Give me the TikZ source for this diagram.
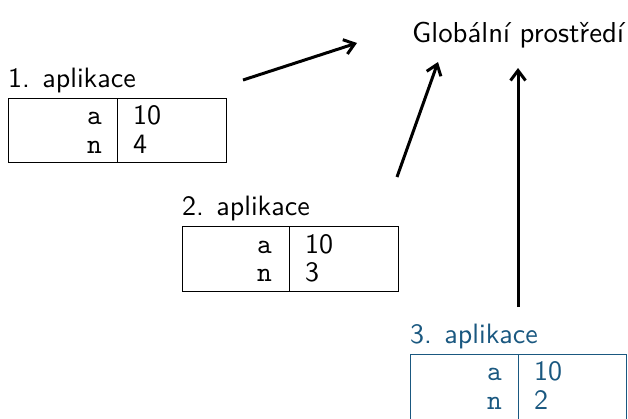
\documentclass[tikz,border=0pt]{standalone}
\usetikzlibrary{arrows.meta}
\definecolor{appblue}{RGB}{26,88,128}
% text is set at 10pt and enlarged, which keeps the 10pt design of the fonts
\newcommand{\bigsf}[2][2.8]{\scalebox{#1}{\fontsize{10}{12}\selectfont\sffamily #2}}
\newcommand{\bigtt}[1]{\scalebox{2.8}{\fontsize{10}{12}\selectfont\ttfamily #1}}
\begin{document}
\begin{tikzpicture}[x=1pt,y=-1pt,
  txt/.style={inner sep=0pt},
  frame/.style={draw, line width=0.8pt, inner sep=0pt, anchor=north west},
  divider/.style={line width=0.8pt},
  link/.style={line width=3pt, -{Straight Barb[length=10pt,width=15pt]}}]
\useasboundingbox (0,0) rectangle (628,418);
\clip (0,0) rectangle (628,418);

% global environment
\node[txt, anchor=base west] (glob) at (412,42) {\bigsf[2.88]{Globální prostředí}};

% first application frame
\node[txt, anchor=base west] (lab1) at (8,87) {\bigsf{1. aplikace}};
\node[frame, minimum width=218pt, minimum height=64pt] (box1) at (8,98) {};
\draw[divider] ([xshift=109pt]box1.north west) -- ([xshift=109pt]box1.south west);
\node[txt, anchor=base east] (a1) at (102,124) {\bigtt{a}};
\node[txt, anchor=base west] (va1) at (133,124) {\bigsf{10}};
\node[txt, anchor=base east] (n1) at (102,153) {\bigtt{n}};
\node[txt, anchor=base west] (vn1) at (133,153) {\bigsf{4}};

% second application frame
\node[txt, anchor=base west] (lab2) at (182,215) {\bigsf{2. aplikace}};
\node[frame, minimum width=216pt, minimum height=65pt] (box2) at (182,226) {};
\draw[divider] ([xshift=107pt]box2.north west) -- ([xshift=107pt]box2.south west);
\node[txt, anchor=base east] (a2) at (272,253) {\bigtt{a}};
\node[txt, anchor=base west] (va2) at (305,253) {\bigsf{10}};
\node[txt, anchor=base east] (n2) at (272,281) {\bigtt{n}};
\node[txt, anchor=base west] (vn2) at (305,281) {\bigsf{3}};

% third (current) application frame
\begin{scope}[appblue]
\node[txt, anchor=base west, text=appblue] (lab3) at (410,343) {\bigsf{3. aplikace}};
\node[frame, draw=appblue, minimum width=216pt, minimum height=80pt] (box3) at (410,354) {};
\draw[divider, appblue] ([xshift=108pt]box3.north west) -- ([xshift=108pt]box3.south west);
\node[txt, anchor=base east, text=appblue] (a3) at (502,380) {\bigtt{a}};
\node[txt, anchor=base west, text=appblue] (va3) at (534,380) {\bigsf{10}};
\node[txt, anchor=base east, text=appblue] (n3) at (502,409) {\bigtt{n}};
\node[txt, anchor=base west, text=appblue] (vn3) at (534,409) {\bigsf{2}};
\end{scope}

% links to the global environment
\coordinate (s1) at (243,80);  \coordinate (t1) at (357,43);
\coordinate (s2) at (397,177); \coordinate (t2) at (438,62);
\coordinate (s3) at (518,307); \coordinate (t3) at (518,68);
\draw[link] (s1) -- (t1);
\draw[link] (s2) -- (t2);
\draw[link] (s3) -- (t3);
\end{tikzpicture}
\end{document}
